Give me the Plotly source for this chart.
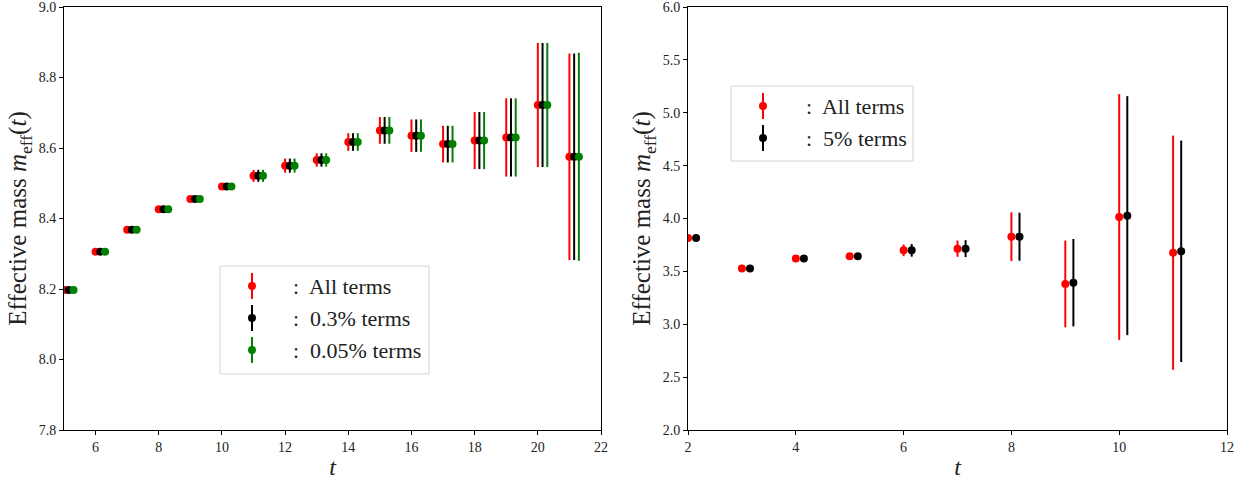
import plotly.graph_objects as go

# ---- left panel data ----
t_left = [5, 6, 7, 8, 9, 10, 11, 12, 13, 14, 15, 16, 17, 18, 19, 20, 21]
m_all_left = [8.197, 8.306, 8.368, 8.426, 8.455, 8.491, 8.521, 8.550, 8.566, 8.617,
              8.650, 8.635, 8.611, 8.621, 8.630, 8.722, 8.575]
e_all_left = [0.003, 0.004, 0.005, 0.006, 0.007, 0.009, 0.017, 0.020, 0.019, 0.025,
              0.038, 0.046, 0.052, 0.081, 0.111, 0.176, 0.293]
m_03_left = [8.197, 8.306, 8.368, 8.426, 8.455, 8.491, 8.521, 8.550, 8.566, 8.617,
             8.650, 8.635, 8.611, 8.621, 8.630, 8.722, 8.575]
e_03_left = [0.003, 0.004, 0.005, 0.006, 0.007, 0.009, 0.017, 0.020, 0.019, 0.025,
             0.038, 0.046, 0.052, 0.081, 0.111, 0.176, 0.293]
m_005_left = [8.197, 8.306, 8.368, 8.426, 8.455, 8.491, 8.521, 8.550, 8.566, 8.617,
              8.650, 8.635, 8.611, 8.621, 8.630, 8.722, 8.575]
e_005_left = [0.003, 0.004, 0.005, 0.006, 0.007, 0.009, 0.017, 0.020, 0.019, 0.025,
              0.038, 0.046, 0.052, 0.081, 0.111, 0.176, 0.295]

# ---- right panel data ----
t_right = [2, 3, 4, 5, 6, 7, 8, 9, 10, 11]
m_all_right = [3.815, 3.527, 3.622, 3.644, 3.699, 3.715, 3.828, 3.381, 4.014, 3.677]
e_all_right = [0.010, 0.015, 0.020, 0.030, 0.055, 0.077, 0.230, 0.410, 1.162, 1.107]
m_5_right = [3.815, 3.527, 3.622, 3.644, 3.699, 3.715, 3.828, 3.393, 4.027, 3.690]
e_5_right = [0.010, 0.015, 0.020, 0.030, 0.060, 0.080, 0.227, 0.413, 1.130, 1.047]

left_ticks_x = [6, 8, 10, 12, 14, 16, 18, 20, 22]
left_ticks_y = [7.8, 8.0, 8.2, 8.4, 8.6, 8.8, 9.0]
right_ticks_x = [2, 4, 6, 8, 10, 12]
right_ticks_y = [2.0, 2.5, 3.0, 3.5, 4.0, 4.5, 5.0, 5.5, 6.0]

labels_left = [":  All terms", ":  0.3% terms", ":  0.05% terms"]
labels_right = [":  All terms", ":  5% terms"]

RED, BLACK, GREEN = "#ff0000", "#000000", "#008000"
SERIF = "Liberation Serif, DejaVu Serif, serif"

W, H = 1244, 483
ML, MR, MT, MB = 64, 17, 7, 53
PW, PH = W - ML - MR, H - MT - MB

fig = go.Figure()


def add_series(x, y, err, offset, color, name, xa, ya):
    fig.add_trace(go.Scatter(
        x=[v + offset for v in x], y=y, mode="markers", name=name,
        marker=dict(color=color, size=8),
        error_y=dict(type="data", array=err, visible=True, color=color,
                     thickness=2, width=0),
        xaxis=xa, yaxis=ya, showlegend=False,
    ))


add_series(t_left, m_all_left, e_all_left, 0.0, RED, labels_left[0], "x", "y")
add_series(t_left, m_03_left, e_03_left, 0.15, BLACK, labels_left[1], "x", "y")
add_series(t_left, m_005_left, e_005_left, 0.30, GREEN, labels_left[2], "x", "y")

add_series(t_right, m_all_right, e_all_right, 0.0, RED, labels_right[0], "x2", "y2")
add_series(t_right, m_5_right, e_5_right, 0.15, BLACK, labels_right[1], "x2", "y2")


# ---- hand-built legends (matplotlib style: marker with error bar) ----
def px(x):
    return (x - ML) / PW


def py(y):
    return (H - MB - y) / PH


shapes, annotations = [], []


def build_legend(box, marker_x, text_x, rows_y, labels, colors):
    x0, y0, x1, y1 = box
    shapes.append(dict(type="rect", xref="paper", yref="paper",
                       x0=px(x0), x1=px(x1), y0=py(y1), y1=py(y0),
                       line=dict(color="#d4d4d4", width=1),
                       fillcolor="rgba(255,255,255,0.8)", layer="above"))
    for ry, lab, col in zip(rows_y, labels, colors):
        shapes.append(dict(type="line", xref="paper", yref="paper",
                           x0=px(marker_x), x1=px(marker_x), y0=py(ry + 13), y1=py(ry - 13),
                           line=dict(color=col, width=2), layer="above"))
        shapes.append(dict(type="circle", xref="paper", yref="paper",
                           x0=px(marker_x - 4), x1=px(marker_x + 4),
                           y0=py(ry + 4), y1=py(ry - 4),
                           line=dict(color=col, width=0), fillcolor=col, layer="above"))
        annotations.append(dict(xref="paper", yref="paper", x=px(text_x), y=py(ry),
                                xanchor="left", yanchor="middle", showarrow=False,
                                text=lab, font=dict(family=SERIF, size=22, color="#222")))


build_legend((220, 266, 429, 374), 252, 291, [286, 318, 350], labels_left, [RED, BLACK, GREEN])
build_legend((731, 86, 913, 161), 763, 804, [106, 138], labels_right, [RED, BLACK])

axis_common = dict(showline=True, linecolor="black", linewidth=1, mirror=True,
                   ticks="outside", ticklen=4, tickcolor="black", showgrid=False,
                   zeroline=False, ticklabeloverflow="allow", automargin=False,
                   tickfont=dict(family=SERIF, size=14, color="#222"))

ytitle = dict(text="Effective mass <i>m</i><sub>eff</sub>(<i>t</i>)",
              font=dict(family=SERIF, size=25, color="#222"), standoff=4)
xtitle = dict(text="<i>t</i>", font=dict(family=SERIF, size=24, color="#222"), standoff=4)

fig.update_layout(
    width=W, height=H,
    margin=dict(l=ML, r=MR, t=MT, b=MB, autoexpand=False),
    paper_bgcolor="white", plot_bgcolor="white",
    font=dict(family=SERIF, color="#222"),
    showlegend=False,
    xaxis=dict(domain=[0, (601 - ML) / PW], range=[5, 22], tickvals=left_ticks_x,
               title=xtitle, **axis_common),
    yaxis=dict(domain=[0, 1], range=[7.8, 9.0], tickvals=left_ticks_y,
               tickformat=".1f", title=ytitle, **axis_common),
    xaxis2=dict(domain=[(688 - ML) / PW, 1], range=[2, 12], tickvals=right_ticks_x,
                title=xtitle, anchor="y2", **axis_common),
    yaxis2=dict(domain=[0, 1], range=[2.0, 6.0], tickvals=right_ticks_y,
                tickformat=".1f", title=ytitle, anchor="x2", **axis_common),
    shapes=shapes,
    annotations=annotations,
)

fig.write_html("out.html")
